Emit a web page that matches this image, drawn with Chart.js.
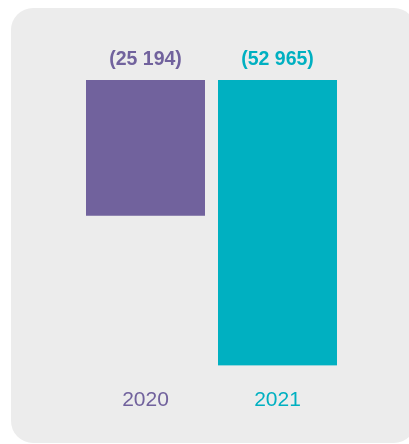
<!DOCTYPE html>
<html>
<head>
<meta charset="utf-8">
<script src="https://cdn.jsdelivr.net/npm/chart.js@4"></script>
<style>
  html, body { margin: 0; padding: 0; background: #ffffff; }
  #wrap { position: relative; width: 409px; height: 444px; overflow: hidden; }
  #panel { position: absolute; left: 11px; top: 8px; width: 405px; height: 435px; background: #ececec; border-radius: 22px; }
  #c { position: absolute; left: 0; top: 0; }
</style>
</head>
<body>
<div id="wrap">
  <div id="panel"></div>
  <canvas id="c" width="409" height="444"></canvas>
</div>
<script>
const categories = ['2020', '2021'];
const values = [-25194, -52965];
const valueLabels = ['(25 194)', '(52 965)'];
const colors = ['#71629d', '#00b0c1'];

const valueLabelPlugin = {
  id: 'valueLabels',
  afterDatasetsDraw(chart) {
    const ctx = chart.ctx;
    const meta = chart.getDatasetMeta(0);
    const zeroY = chart.scales.y.getPixelForValue(0);
    ctx.save();
    ctx.font = 'bold 19.5px "Liberation Sans", Arial, sans-serif';
    ctx.textAlign = 'center';
    ctx.textBaseline = 'middle';
    meta.data.forEach((bar, i) => {
      ctx.fillStyle = colors[i];
      ctx.fillText(valueLabels[i], bar.x, zeroY - 20.5);
    });
    ctx.restore();
  }
};

new Chart(document.getElementById('c'), {
  type: 'bar',
  data: {
    labels: categories,
    datasets: [{
      data: values,
      backgroundColor: colors,
      borderWidth: 0,
      categoryPercentage: 1,
      barPercentage: 0.9015
    }]
  },
  options: {
    responsive: false,
    animation: false,
    layout: { padding: { left: 79.5, right: 65.5, top: 80, bottom: 9 } },
    plugins: { legend: { display: false }, tooltip: { enabled: false } },
    scales: {
      x: {
        grid: { display: false, drawTicks: false },
        border: { display: false },
        ticks: {
          padding: 22,
          color: (ctx) => colors[ctx.index],
          font: { family: '"Liberation Sans", Arial, sans-serif', size: 21 }
        }
      },
      y: {
        min: -53000,
        max: 0,
        display: false
      }
    }
  },
  plugins: [valueLabelPlugin]
});
</script>
</body>
</html>
